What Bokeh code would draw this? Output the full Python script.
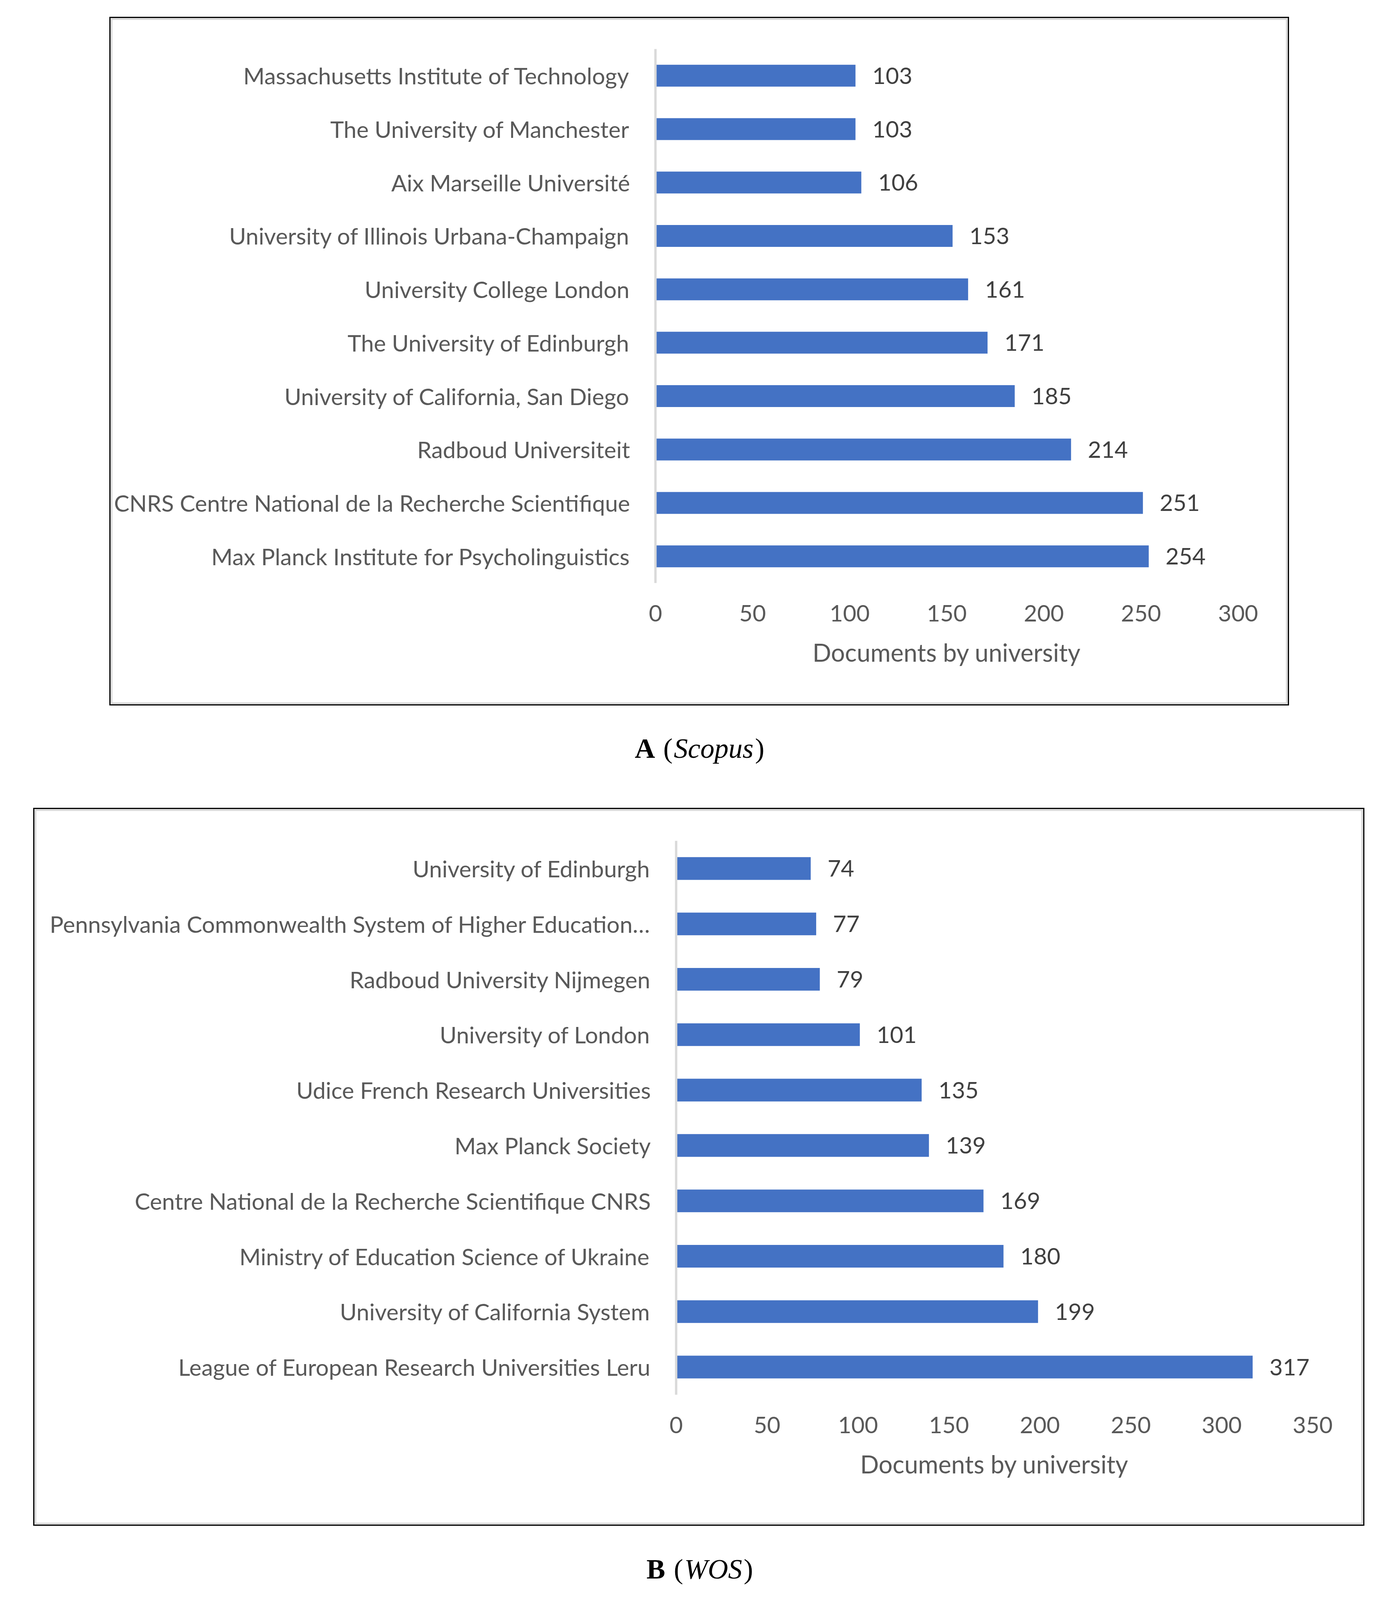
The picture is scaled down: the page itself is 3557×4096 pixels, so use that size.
from bokeh.plotting import figure
from bokeh.layouts import column, row
from bokeh.models import Spacer, FactorRange, Range1d, ColumnDataSource, FixedTicker
from bokeh.core.properties import value
from bokeh.embed import file_html
from bokeh.resources import INLINE

# ---------------- data (top row first) ----------------
scopus_names = [
    "Massachusetts Institute of Technology",
    "The University of Manchester",
    "Aix Marseille Université",
    "University of Illinois Urbana-Champaign",
    "University College London",
    "The University of Edinburgh",
    "University of California, San Diego",
    "Radboud Universiteit",
    "CNRS Centre National de la Recherche Scientifique",
    "Max Planck Institute for Psycholinguistics",
]
scopus_docs = [103, 103, 106, 153, 161, 171, 185, 214, 251, 254]
scopus_ticks = [0, 50, 100, 150, 200, 250, 300]

wos_names = [
    "University of Edinburgh",
    "Pennsylvania Commonwealth System of Higher Education…",
    "Radboud University Nijmegen",
    "University of London",
    "Udice French Research Universities",
    "Max Planck Society",
    "Centre National de la Recherche Scientifique CNRS",
    "Ministry of Education Science of Ukraine",
    "University of California System",
    "League of European Research Universities Leru",
]
wos_docs = [74, 77, 79, 101, 135, 139, 169, 180, 199, 317]
wos_ticks = [0, 50, 100, 150, 200, 250, 300, 350]

axis_title = "Documents by university"

# ---------------- styles ----------------
FONT = "Lato"
SERIF = "Liberation Serif"
BAR = "#4472C4"
GREY_TXT = "#595959"
DARK_TXT = "#404040"
FS = "59px"
# grey inner band (5px) + black outer line (3px) drawn outside the canvas
FRAME_STYLE = {"box-shadow": "0 0 0 5px #D9D9D9",
               "outline": "3px solid #000000", "outline-offset": "5px"}


def make_chart(names, docs, ticks, W, H, bl, br, bt, bb):
    factors = list(reversed(names))
    src = ColumnDataSource(dict(name=names, docs=docs, lab=[str(d) for d in docs]))
    p = figure(width=W, height=H, y_range=FactorRange(factors=factors, range_padding=0),
               x_range=Range1d(ticks[0], ticks[-1]),
               toolbar_location=None, output_backend="svg",
               min_border_left=bl, min_border_right=br, min_border_top=bt, min_border_bottom=bb,
               background_fill_color="white", border_fill_color="white",
               outline_line_color=None)
    p.styles = FRAME_STYLE
    p.margin = (8, 8, 8, 8)
    p.hbar(y="name", right="docs", left=0, height=0.41, source=src,
           fill_color=BAR, line_color=None)
    p.text(x="docs", y="name", text="lab", source=src, x_offset=43,
           text_font=value(FONT), text_font_size=FS, text_color=DARK_TXT,
           text_baseline="middle", text_align="left")
    p.grid.visible = False

    xa = p.xaxis[0]
    xa.ticker = FixedTicker(ticks=ticks)
    xa.axis_line_color = None
    xa.major_tick_line_color = None
    xa.minor_tick_line_color = None
    xa.major_label_text_font = FONT
    xa.major_label_text_font_size = FS
    xa.major_label_text_color = GREY_TXT
    xa.major_label_standoff = 50
    xa.axis_label = axis_title
    xa.axis_label_text_font = FONT
    xa.axis_label_text_font_size = "63px"
    xa.axis_label_text_font_style = "normal"
    xa.axis_label_text_color = GREY_TXT
    xa.axis_label_standoff = 38

    ya = p.yaxis[0]
    ya.axis_line_color = "#D9D9D9"
    ya.axis_line_width = 6
    ya.major_tick_line_color = None
    ya.minor_tick_line_color = None
    ya.major_label_text_font = FONT
    ya.major_label_text_font_size = FS
    ya.major_label_text_color = GREY_TXT
    ya.major_label_standoff = 59
    return p


def caption(W, H, parts, y):
    # figure whose data units are canvas pixels (x from left, y from bottom)
    c = figure(width=W, height=H, x_range=Range1d(0, W), y_range=Range1d(0, H),
               x_axis_location=None, y_axis_location=None, min_border=0,
               toolbar_location=None, output_backend="svg", outline_line_color=None,
               background_fill_color="white", border_fill_color="white")
    c.grid.visible = False
    for txt, x, style in parts:
        c.text(x=[x], y=[y], text=[txt], text_font=value(SERIF), text_font_size="72px",
               text_font_style=style, text_color="black",
               text_baseline="alphabetic", text_align="left")
    return c


figA = make_chart(scopus_names, scopus_docs, scopus_ticks, 3005, 1747, 1388, 123, 74, 306)
figB = make_chart(wos_names, wos_docs, wos_ticks, 3393, 1822, 1638, 125, 76, 328)

capA = caption(3541, 262, [("A", 1625, "bold"), ("(", 1698, "normal"),
                           ("Scopus", 1725, "italic"), (")", 1933, "normal")], 153)
capB = caption(3541, 170, [("B", 1655, "bold"), ("(", 1725, "normal"),
                           ("WOS", 1752, "italic"), (")", 1904, "normal")], 60)

layout = column(
    Spacer(width=10, height=43),
    row(Spacer(width=280, height=10), figA),
    capA,
    row(Spacer(width=85, height=10), figB),
    capB,
)

open("out.html", "w").write(file_html(layout, INLINE))
